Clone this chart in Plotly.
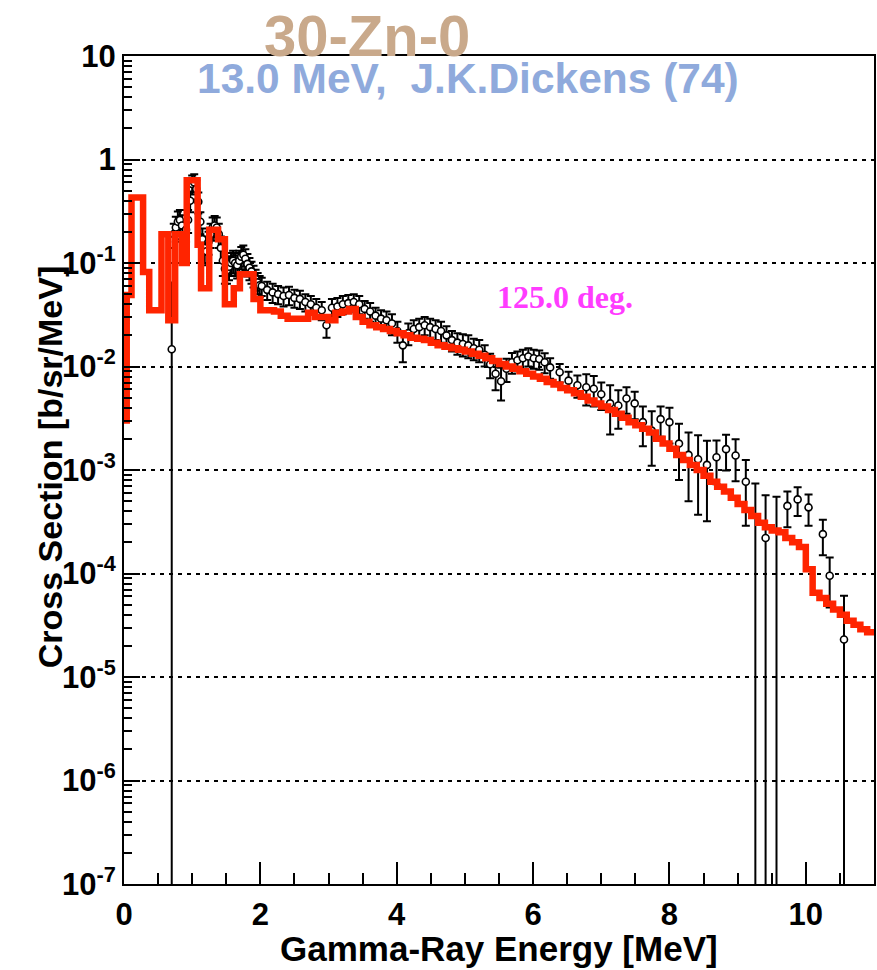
import numpy as np
import plotly.graph_objects as go

# ---------------------------------------------------------------------------
# Calculated spectrum (histogram), b/sr/MeV
# low-energy part with irregular bins, then 0.1 MeV bins from 2 to 11 MeV
calc_edges_low = [0.00, 0.04, 0.11, 0.28, 0.37, 0.55, 0.65, 0.75, 0.85, 0.92,
                  1.08, 1.13, 1.25, 1.38, 1.48, 1.61, 1.70, 1.90, 2.00]
calc_vals_low = [0.003, 0.049, 0.43, 0.082, 0.035, 0.19, 0.028, 0.19, 0.10,
                 0.63, 0.15, 0.057, 0.21, 0.17, 0.040, 0.057, 0.078, 0.045]
calc_vals_high = [
    0.035, 0.035, 0.034, 0.031, 0.029, 0.029, 0.029, 0.033, 0.030, 0.030,
    0.028, 0.033, 0.034, 0.036, 0.030, 0.027, 0.025, 0.024, 0.023, 0.022,
    0.021, 0.020, 0.019, 0.0185, 0.018, 0.017, 0.016, 0.0155, 0.015, 0.0145,
    0.014, 0.0133, 0.0127, 0.012, 0.0113, 0.0106, 0.0100, 0.0095, 0.0090, 0.0085,
    0.0080, 0.0076, 0.0071, 0.0067, 0.0062, 0.0059, 0.0055, 0.0051, 0.0047, 0.0044,
    0.0041, 0.0038, 0.0035, 0.0032, 0.0029, 0.0027, 0.0025, 0.0023, 0.0020, 0.0018,
    0.0016, 0.0014, 0.00125, 0.00112, 0.00100, 0.00088, 0.00077, 0.00069, 0.00062, 0.00054,
    0.00047, 0.00041, 0.00036, 0.00031, 0.00028, 0.00026, 0.00025, 0.00022, 0.00020, 0.00018,
    0.00011, 0.000065, 0.000058, 0.000051, 0.000045, 0.000040, 0.000035, 0.000032, 0.000029, 0.000027,
]
calc_edges_high = np.round(2.0 + 0.1 * np.arange(len(calc_vals_high) + 1), 2)[1:].tolist()

# ---------------------------------------------------------------------------
# Measured spectrum (J.K.Dickens), energy [MeV], value and error [b/sr/MeV]
# values of 1e-9 stand for points that fall below the plotted range
exp_e = [
    0.70, 0.73, 0.76, 0.79, 0.82, 0.85, 0.88, 0.91, 0.94, 0.97, 1.00, 1.03, 1.06,
    1.09, 1.12, 1.15, 1.18, 1.21, 1.24, 1.27, 1.30, 1.33, 1.36, 1.39, 1.42, 1.45,
    1.48, 1.51, 1.54, 1.57, 1.60, 1.63, 1.66, 1.69, 1.72, 1.75, 1.78, 1.81, 1.84,
    1.87, 1.90, 1.93, 1.96, 1.99,
    2.02, 2.10, 2.18, 2.26, 2.34, 2.42, 2.50, 2.58, 2.66, 2.74, 2.82, 2.90, 2.97,
    3.05, 3.13, 3.21, 3.29, 3.37, 3.45, 3.53, 3.61, 3.69, 3.77, 3.85, 3.93,
    4.01, 4.09, 4.17, 4.25, 4.33, 4.41, 4.49, 4.57, 4.65, 4.73, 4.81, 4.89, 4.97,
    5.05, 5.13, 5.21, 5.29, 5.37, 5.45, 5.53, 5.61, 5.69, 5.77, 5.85, 5.93,
    6.01, 6.09, 6.17, 6.25,
    6.39, 6.52, 6.65, 6.78, 6.89, 7.00, 7.13, 7.25, 7.37, 7.49, 7.61, 7.74, 7.87,
    8.00, 8.14, 8.28, 8.42, 8.55, 8.69, 8.83, 8.97, 9.12, 9.26, 9.41, 9.57, 9.73,
    9.88, 10.04, 10.25, 10.35, 10.56,
]
exp_xs = [
    0.0147, 0.19, 0.22, 0.25, 0.26, 0.23, 0.20, 0.21, 0.26, 0.40, 0.58, 0.60, 0.52,
    0.39, 0.25, 0.17, 0.14, 0.13, 0.16, 0.19, 0.22, 0.23, 0.22, 0.19, 0.14, 0.105,
    0.088, 0.085, 0.092, 0.10, 0.105, 0.10, 0.095, 0.105, 0.115, 0.12, 0.11, 0.098, 0.09,
    0.083, 0.076, 0.070, 0.065, 0.061,
    0.060, 0.055, 0.052, 0.050, 0.048, 0.049, 0.046, 0.045, 0.042, 0.040, 0.037, 0.035, 0.025,
    0.037, 0.038, 0.040, 0.041, 0.042, 0.040, 0.036, 0.034, 0.031, 0.029, 0.028, 0.026,
    0.022, 0.016, 0.021, 0.023, 0.024, 0.025, 0.024, 0.023, 0.022, 0.020, 0.018, 0.017, 0.0165,
    0.016, 0.015, 0.0145, 0.013, 0.0105, 0.0085, 0.0072, 0.0095, 0.011, 0.0115, 0.012, 0.0125,
    0.012, 0.0118, 0.011, 0.0098,
    0.0088, 0.0073, 0.0066, 0.0063, 0.0061, 0.0054, 0.0044, 0.0042, 0.0049, 0.0044, 0.0029, 0.0024, 0.0031,
    0.0029, 0.0018, 0.0014, 0.00127, 0.00112, 0.00133, 0.00159, 0.00138, 0.00077, 1e-9, 0.00022, 1e-9, 0.00045,
    0.00052, 0.000435, 0.00024, 0.000095, 0.000023,
]
exp_err = [
    0.05, 0.05, 0.06, 0.065, 0.065, 0.06, 0.05, 0.05, 0.065, 0.09, 0.12, 0.12, 0.11,
    0.09, 0.06, 0.045, 0.04, 0.035, 0.04, 0.05, 0.055, 0.055, 0.055, 0.05, 0.04, 0.03,
    0.025, 0.022, 0.024, 0.025, 0.026, 0.025, 0.024, 0.026, 0.028, 0.028, 0.026, 0.024, 0.022,
    0.02, 0.018, 0.016, 0.015, 0.014,
    0.012, 0.011, 0.011, 0.010, 0.010, 0.010, 0.009, 0.009, 0.008, 0.008, 0.008, 0.007, 0.006,
    0.008, 0.008, 0.008, 0.008, 0.008, 0.008, 0.007, 0.007, 0.006, 0.006, 0.006, 0.006,
    0.005, 0.005, 0.005, 0.005, 0.005, 0.005, 0.005, 0.005, 0.005, 0.0045, 0.004, 0.004, 0.004,
    0.004, 0.0035, 0.0035, 0.003, 0.0028, 0.0026, 0.0025, 0.0024, 0.0025, 0.0025, 0.0025, 0.0025,
    0.0025, 0.0025, 0.0024, 0.0022,
    0.0018, 0.0016, 0.0016, 0.0021, 0.0020, 0.0016, 0.0022, 0.0017, 0.0014, 0.0013, 0.0012, 0.0013, 0.0010,
    0.0011, 0.0010, 0.0009, 0.0009, 0.0008, 0.0006, 0.0006, 0.0006, 0.00048, 0.00074, 0.00035, 0.00055, 0.00017,
    0.00016, 0.000145, 0.00009, 0.000048, 0.000038,
]
assert len(exp_e) == len(exp_xs) == len(exp_err)

y_tick_vals = [1e-7, 1e-6, 1e-5, 1e-4, 1e-3, 1e-2, 1e-1, 1, 10]
y_tick_text = ["10<sup>-7</sup>", "10<sup>-6</sup>", "10<sup>-5</sup>", "10<sup>-4</sup>",
               "10<sup>-3</sup>", "10<sup>-2</sup>", "10<sup>-1</sup>", "1", "10"]
x_tick_vals = [0, 2, 4, 6, 8, 10]

# ---------------------------------------------------------------------------
edges = calc_edges_low + calc_edges_high
vals = calc_vals_low + calc_vals_high
step_x = edges
step_y = vals + [vals[-1]]

fig = go.Figure()

fig.add_trace(go.Scatter(
    x=exp_e, y=exp_xs, mode="markers",
    marker=dict(symbol="circle", size=7, color="white",
                line=dict(color="black", width=1.6)),
    error_y=dict(type="data", array=exp_err, visible=True,
                 color="black", thickness=2, width=4),
    hoverinfo="x+y",
))

fig.add_trace(go.Scatter(
    x=step_x, y=step_y, mode="lines", line_shape="hv",
    line=dict(color="#FF2400", width=6.5),
    hoverinfo="x+y",
))

axis_font = dict(family="Liberation Sans, Arial, sans-serif", size=31, color="black")

fig.update_xaxes(
    range=[0, 11], showline=True, linecolor="black", linewidth=2, mirror=True,
    ticks="inside", ticklen=22, tickwidth=2, tickcolor="black",
    tickvals=x_tick_vals, ticktext=[f"<b>{v}</b>" for v in x_tick_vals],
    tickfont=axis_font, ticklabelstandoff=2,
    minor=dict(ticks="inside", ticklen=11, tickwidth=2, tickcolor="black",
               tick0=0, dtick=0.5, showgrid=False),
    showgrid=False, zeroline=False,
)
fig.update_yaxes(
    type="log", range=[-7, 1], showline=True, linecolor="black", linewidth=2, mirror=True,
    ticks="inside", ticklen=16, tickwidth=2, tickcolor="black",
    tickvals=y_tick_vals, ticktext=[f"<b>{t}</b>" for t in y_tick_text],
    tickfont=axis_font,
    minor=dict(ticks="inside", ticklen=8, tickwidth=1.5, tickcolor="black",
               dtick="D1", showgrid=False),
    showgrid=True, gridcolor="black", gridwidth=2, griddash="4px,5px",
    zeroline=False,
)

title_font = "Liberation Sans, Arial, sans-serif"
fig.update_layout(
    width=877, height=970,
    margin=dict(l=124, r=1, t=56, b=86),
    paper_bgcolor="white", plot_bgcolor="white",
    showlegend=False,
    annotations=[
        dict(text="<b>30-Zn-0</b>", xref="paper", yref="paper", x=0.3245, y=1.0242,
             xanchor="center", yanchor="middle", showarrow=False,
             font=dict(family=title_font, size=58, color="#C9A98B")),
        dict(text="<b>13.0 MeV,\u00a0 J.K.Dickens (74)</b>", xref="paper", yref="paper",
             x=0.4588, y=0.9734, xanchor="center", yanchor="middle", showarrow=False,
             font=dict(family=title_font, size=42.5, color="#8FAADC")),
        dict(text="<b>125.0 deg.</b>", xref="paper", yref="paper", x=0.5878, y=0.7089,
             xanchor="center", yanchor="middle", showarrow=False,
             font=dict(family="Liberation Serif, Times New Roman, serif", size=32,
                       color="#FF3CFF")),
        dict(text="<b>Gamma-Ray Energy [MeV]</b>", xref="paper", yref="paper",
             x=0.5, y=-0.0785, xanchor="center", yanchor="middle", showarrow=False,
             font=dict(family=title_font, size=35, color="black")),
        dict(text="<b>Cross Section [b/sr/MeV]</b>", xref="paper", yref="paper",
             x=-0.0984, y=0.5036, xanchor="center", yanchor="middle", showarrow=False,
             textangle=-90,
             font=dict(family=title_font, size=34, color="black")),
    ],
)

fig.write_html("out.html")
